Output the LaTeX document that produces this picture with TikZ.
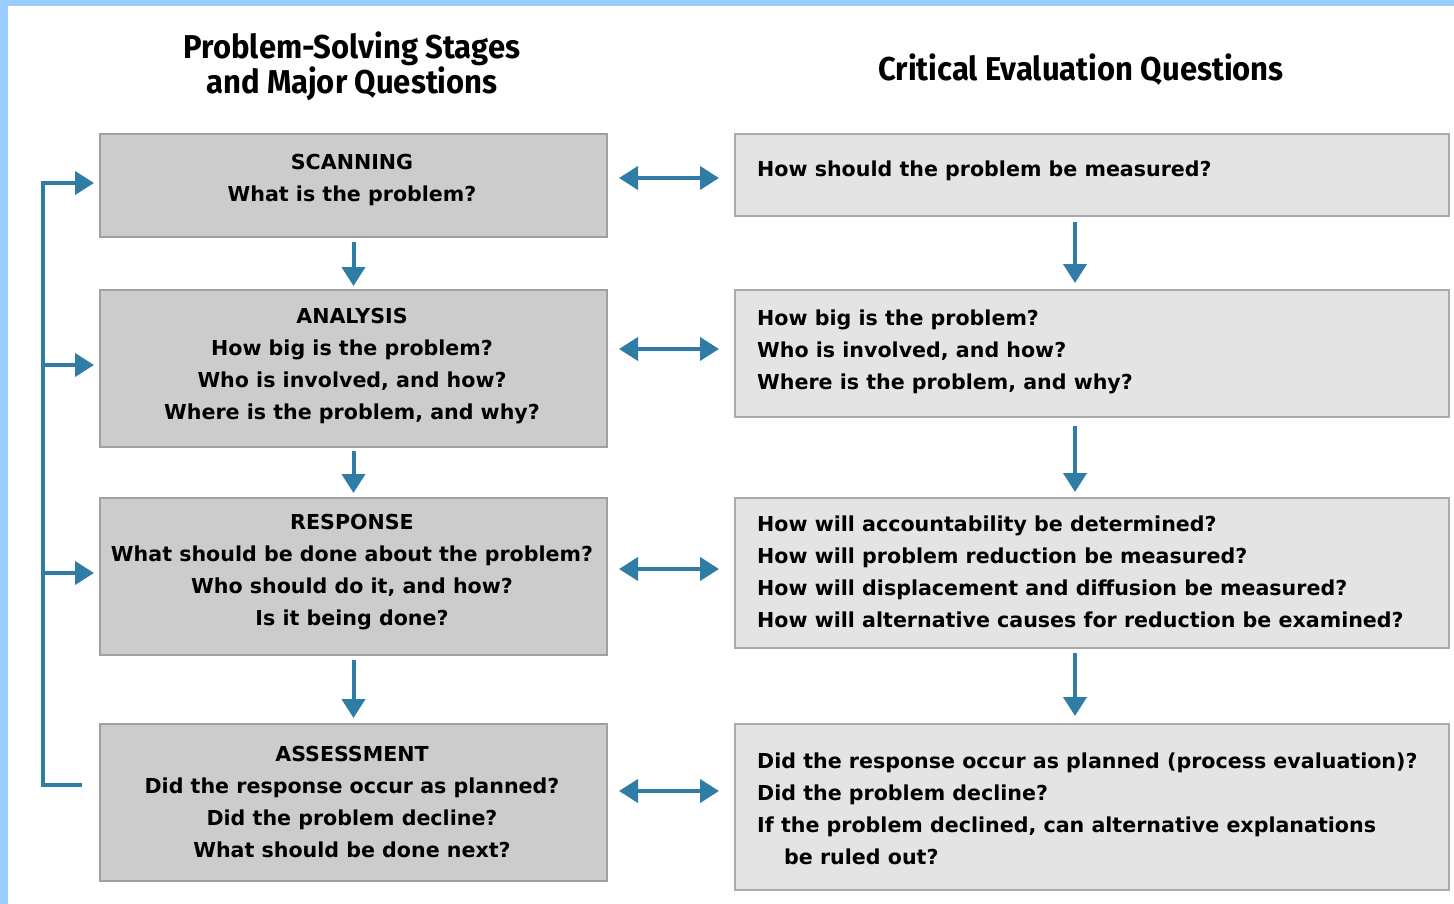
\documentclass[tikz,border=0pt]{standalone}
\usepackage{fontspec}
\setmainfont{DejaVu Sans}
\newfontfamily\titlefont{Fira Sans}[FakeStretch=0.94]
\usetikzlibrary{arrows.meta}
\definecolor{frameblue}{RGB}{153,204,255}
\definecolor{arrowblue}{RGB}{47,124,166}
\definecolor{leftfill}{RGB}{204,204,204}
\definecolor{rightfill}{RGB}{228,228,228}
\definecolor{leftline}{RGB}{160,160,160}
\definecolor{rightline}{RGB}{170,170,170}
\begin{document}
\begin{tikzpicture}[x=1pt,y=-1pt,
  stagebox/.style={draw=leftline, line width=2pt, fill=leftfill, inner sep=0pt, anchor=north west, minimum width=507pt},
  evalbox/.style={draw=rightline, line width=2pt, fill=rightfill, inner sep=0pt, anchor=north west, minimum width=714pt},
  boxtext/.style={inner sep=0pt, font=\bfseries\fontsize{20.6}{32}\selectfont},
  stagetext/.style={boxtext, align=center},
  evaltext/.style={boxtext, align=left, anchor=west},
  titletext/.style={inner sep=0pt, align=center, font=\titlefont\bfseries\fontsize{33}{35}\selectfont},
  tipshape/.tip={Triangle[length=19pt,width=23pt]},
  arr/.style={draw=arrowblue, line width=4pt, -{tipshape}, line join=miter},
  darr/.style={draw=arrowblue, line width=4pt, {tipshape}-{tipshape}}
]
\useasboundingbox (0,0) rectangle (1454,904);
\fill[white] (0,0) rectangle (1454,904);
\fill[frameblue] (0,0) rectangle (1454,6);
\fill[frameblue] (0,0) rectangle (8,904);

% titles
\node[titletext] (t1) at (352,66) {Problem-Solving Stages\\and Major Questions};
\node[titletext] (t2) at (1081,70) {Critical Evaluation Questions};

% left boxes
\node[stagebox, minimum height=103pt] (s1) at (99,133) {};
\node[stagebox, minimum height=157pt] (s2) at (99,289) {};
\node[stagebox, minimum height=157pt] (s3) at (99,497) {};
\node[stagebox, minimum height=157pt] (s4) at (99,723) {};

% right boxes
\node[evalbox, minimum height=82pt] (q1) at (734,133) {};
\node[evalbox, minimum height=127pt] (q2) at (734,289) {};
\node[evalbox, minimum height=150pt] (q3) at (734,497) {};
\node[evalbox, minimum height=166pt] (q4) at (734,723) {};

% left texts
\node[stagetext] (ts1) at (352,180) {SCANNING\\What is the problem?};
\node[stagetext] (ts2) at (352,366) {ANALYSIS\\How big is the problem?\\Who is involved, and how?\\Where is the problem, and why?};
\node[stagetext] (ts3) at (352,572) {RESPONSE\\What should be done about the problem?\\Who should do it, and how?\\Is it being done?};
\node[stagetext] (ts4) at (352,802) {ASSESSMENT\\Did the response occur as planned?\\Did the problem decline?\\What should be done next?};

% right texts
\node[evaltext] (tq1) at (757,171) {How should the problem be measured?};
\node[evaltext] (tq2) at (757,352) {How big is the problem?\\Who is involved, and how?\\Where is the problem, and why?};
\node[evaltext] (tq3) at (757,572) {How will accountability be determined?\\How will problem reduction be measured?\\How will displacement and diffusion be measured?\\How will alternative causes for reduction be examined?};
\node[evaltext] (tq4) at (757,809) {Did the response occur as planned (process evaluation)?\\Did the problem decline?\\If the problem declined, can alternative explanations\\\hspace*{27pt}be ruled out?};

% vertical arrows
\draw[arr, shorten <=4pt, shorten >=3pt] (s1.south) -- (s2.north);
\draw[arr, shorten <=3pt, shorten >=4pt] (s2.south) -- (s3.north);
\draw[arr, shorten <=4pt, shorten >=5pt] (s3.south) -- (s4.north);
\draw[arr, shorten <=5pt, shorten >=6pt] ([xshift=-17pt]q1.south) -- ([xshift=-17pt]q2.north);
\draw[arr, shorten <=8pt, shorten >=5pt] ([xshift=-17pt]q2.south) -- ([xshift=-17pt]q3.north);
\draw[arr, shorten <=4pt, shorten >=7pt] ([xshift=-17pt]q3.south) -- ([xshift=-17pt]q4.north);

% horizontal double arrows
\coordinate (h1) at (0,178);
\coordinate (h2) at (0,349);
\coordinate (h3) at (0,569);
\coordinate (h4) at (0,791);
\draw[darr, shorten <=11pt, shorten >=15pt] (s1.east |- h1) -- (q1.west |- h1);
\draw[darr, shorten <=11pt, shorten >=15pt] (s2.east |- h2) -- (q2.west |- h2);
\draw[darr, shorten <=11pt, shorten >=15pt] (s3.east |- h3) -- (q3.west |- h3);
\draw[darr, shorten <=11pt, shorten >=15pt] (s4.east |- h4) -- (q4.west |- h4);

% feedback loop
\coordinate (fbEnd) at (82,785);
\coordinate (fbBot) at (43,785);
\coordinate (fbTop) at (43,183);
\coordinate (fbA) at (43,365);
\coordinate (fbB) at (43,573);
\draw[arr, shorten >=5pt] (fbEnd) -- (fbBot) -- (fbTop) -- (s1.west |- fbTop);
\draw[arr, shorten >=5pt] (fbA) -- (s2.west |- fbA);
\draw[arr, shorten >=5pt] (fbB) -- (s3.west |- fbB);
\end{tikzpicture}
\end{document}
